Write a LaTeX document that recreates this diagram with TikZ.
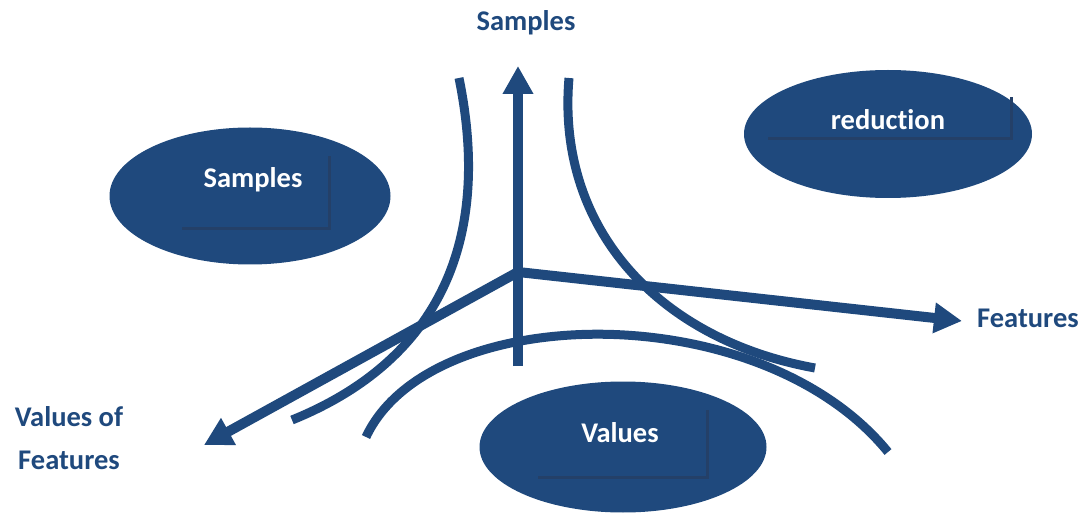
\documentclass[tikz,border=0pt]{standalone}
\usepackage{fontspec}
\setmainfont{Carlito}[Ligatures=NoCommon]
\usetikzlibrary{arrows.meta,shapes.geometric}
\definecolor{navy}{RGB}{31,73,125}
\definecolor{navyedge}{RGB}{36,64,104}
\tikzset{
  blob/.style={ellipse,fill=navy,inner sep=0pt},
  blobtext/.style={text=white,font=\fontsize{28.5}{34}\selectfont\bfseries,inner sep=0pt},
  axislabel/.style={text=navy,font=\fontsize{28.5}{43}\selectfont\bfseries,inner sep=0pt},
  axis/.style={draw=navy,line width=10pt,-{Triangle[length=28pt,width=29pt]}},
  branch/.style={draw=navy,line width=9pt},
  boxedge/.style={draw=navyedge,line width=3pt}
}
\begin{document}
\begin{tikzpicture}[x=1pt,y=-1pt]
\useasboundingbox (0,0) rectangle (1088,513);
% ellipses with their text-box shadows
\node[blob,minimum width=281pt,minimum height=137pt] (eS) at (250,196) {};
\draw[boxedge] (182,229) -- (329,229) -- (329,156);
\node[blobtext] (tS) at (253,180) {Samples};
\node[blob,minimum width=288pt,minimum height=128pt] (eR) at (888,134) {};
\draw[boxedge] (768,139) -- (1011,139) -- (1011,97);
\node[blobtext] (tR) at (888,120) {reduction};
\node[blob,minimum width=287pt,minimum height=131pt] (eV) at (623,447) {};
\draw[boxedge] (538,477) -- (707,477) -- (707,410);
\node[blobtext] (tV) at (620,433) {Values};
% axis labels
\node[axislabel] (lS) at (526,23) {Samples};
\node[axislabel,anchor=west] (lF) at (977,318) {Features};
\node[axislabel,align=center] (lVF) at (69,438) {Values of\\Features};
% axes
\coordinate (o) at (518,272);
\coordinate (base) at (518,366);
\coordinate (up) at (518,66);
\coordinate (right) at (962,321);
\coordinate (left) at (204,445);
\draw[axis] (base) -- (up);
\draw[axis] (o) -- (right);
\draw[axis] (o) -- (left);
% hyperbola branches
\coordinate (a1) at (459,78);
\coordinate (a2) at (292,420);
\coordinate (b1) at (569,78);
\coordinate (b2) at (815,368);
\coordinate (c1) at (366,437);
\coordinate (c2) at (888,452);
\draw[branch] (a1) .. controls (492,240) and (440,360) .. (a2);
\draw[branch] (b1) .. controls (556,230) and (660,340) .. (b2);
\draw[branch] (c1) .. controls (430,300) and (760,295) .. (c2);
\end{tikzpicture}
\end{document}
